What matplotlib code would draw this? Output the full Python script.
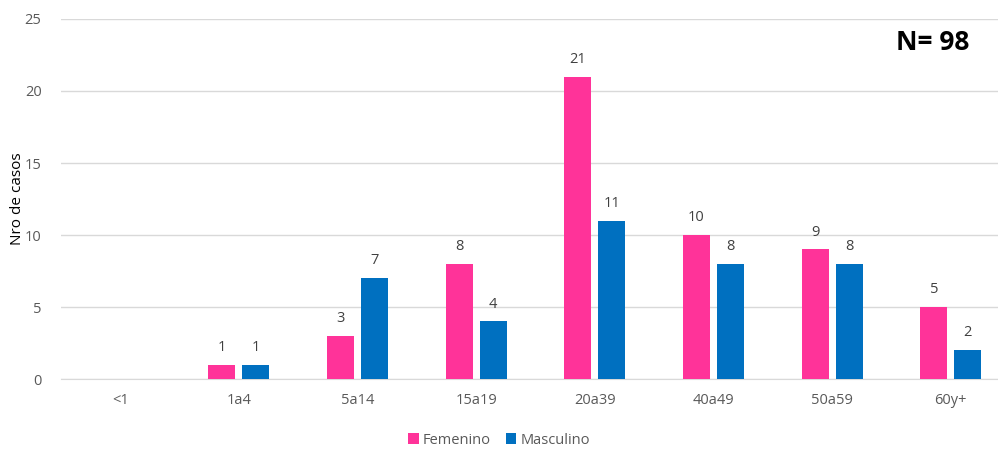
import numpy as np
import matplotlib
matplotlib.use("Agg")
import matplotlib.pyplot as plt

plt.rcParams['font.family'] = ['Open Sans', 'DejaVu Sans']

grupos = ['<1', '1a4', '5a14', '15a19', '20a39', '40a49', '50a59', '60y+']
femenino = [0, 1, 3, 8, 21, 10, 9, 5]
masculino = [0, 1, 7, 4, 11, 8, 8, 2]

col_f = '#FF3399'
col_m = '#0070C0'
gris = '#595959'

fig = plt.figure(figsize=(9.98, 4.51), dpi=100)
# the plot area runs a bit past the right edge of the image, like the original
ax = fig.add_axes([0.0611, 0.1596, 0.951, 0.7983])

x = np.arange(len(grupos))
w = 0.228
off = 0.143
bf = ax.bar(x - off, femenino, w, color=col_f, label='Femenino', zorder=3)
bm = ax.bar(x + off, masculino, w, color=col_m, label='Masculino', zorder=3)

for barras, vals in [(bf, femenino), (bm, masculino)]:
    for b, v in zip(barras, vals):
        if v > 0:
            ax.annotate(str(v), (b.get_x() + b.get_width() / 2, v),
                        xytext=(0, 7), textcoords='offset points',
                        ha='center', va='bottom', fontsize=10.5, color='#404040')

ax.set_xlim(-0.5, len(grupos) - 0.5)
ax.set_ylim(0, 25)
ax.set_yticks(range(0, 26, 5))
ax.set_xticks(x)
ax.set_xticklabels(grupos)
ax.grid(axis='y', color='#D9D9D9', linewidth=1, zorder=0)
for s in ['top', 'right', 'left']:
    ax.spines[s].set_visible(False)
ax.spines['bottom'].set_color('#D9D9D9')
ax.tick_params(axis='both', length=0, colors=gris, labelsize=10.5)
ax.tick_params(axis='x', pad=10)
ax.tick_params(axis='y', pad=14)
ax.set_ylabel('Nro de casos', fontsize=11, color='black')
ax.yaxis.set_label_coords(-0.038, 0.5)

ax.text(0.971, 1 - 42 / 451, 'N= 98', transform=fig.transFigure, ha='right', va='center',
        fontsize=19, fontweight='bold', color='black')

fig.legend(loc='center', bbox_to_anchor=(0.5, 1 - 440 / 451), ncol=2, frameon=False,
           fontsize=10.5, handlelength=0.7, handleheight=0.7, handletextpad=0.3,
           columnspacing=1.0, labelcolor=gris)

fig.savefig('out.png', dpi=100)
